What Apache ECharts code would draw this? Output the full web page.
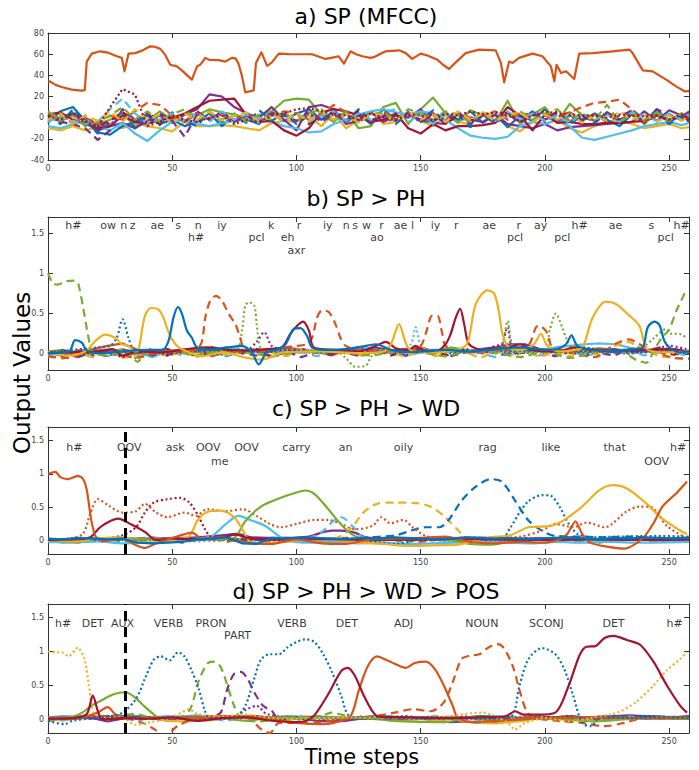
<!DOCTYPE html>
<html><head><meta charset="utf-8">
<script src="https://cdn.jsdelivr.net/npm/echarts@6.0.0/dist/echarts.min.js"></script>
<style>html,body{margin:0;padding:0;background:#fff}#c{width:699px;height:770px}</style>
</head><body><div id="c"></div>
<script>
// ---------- tick labels ----------
const xTicks = [0, 50, 100, 150, 200, 250];
const yTicksOut = [0, 0.5, 1, 1.5];
const oovBoundary = 31;

// ---------- panel a: SP (MFCC) ----------
const aEnergy = [[0,34],[0.8,34.3],[3,31],[5.5,29],[9.5,26.5],[13.6,25.5],[14.8,26],[15.6,53],[17.6,60.5],[21,62.7],[24,61.5],[27.7,58],[29.7,56.5],[30.8,43.8],[32.4,60.5],[35.1,61],[38,63.5],[41.1,67.4],[43,67],[45.2,65],[47.2,59.3],[49.2,50],[51.9,48.5],[53.9,44.7],[56,40],[57.9,35.9],[60,48.5],[61.5,50.5],[63.3,56.5],[65,54.5],[68.7,54.3],[71.4,53],[74,56.5],[75.5,56],[76.7,51],[78,40],[79.4,23.9],[82.8,25.8],[83.7,51.7],[85.9,61.7],[88.2,49],[90,52],[92.9,60.5],[97,60],[101,59.9],[106.3,59.9],[111.7,55.5],[115,57],[117,58],[119.1,51],[121.8,62.7],[124,60],[126.5,58],[129.8,56.5],[131.5,57.5],[135.9,62.7],[141.3,63.6],[144,61],[146.6,55.5],[150,60.5],[153,58.5],[156.7,54.8],[159,50],[161.4,46],[164,52],[168.1,61],[173.5,64.3],[180.2,63.6],[182.3,51.7],[183.6,33.4],[185.6,53],[187,51.7],[189.6,56.5],[195,60.5],[199,58],[202.4,48.5],[203.8,34.3],[204.7,50],[206.5,42.2],[208.5,43.8],[211.8,36.6],[213.8,60.5],[219.2,61],[227.3,62.7],[234,64.3],[235.3,61],[239.4,44.7],[243.4,43.8],[248.8,35.9],[252.8,29.6],[256.2,24.9],[258,25]];
const aSteps = [0,5,10,15,20,25,30,35,40,45,50,55,60,65,70,75,80,85,90,95,100,105,110,115,120,125,130,135,140,145,150,155,160,165,170,175,180,185,190,195,200,205,210,215,220,225,230,235,240,245,250,255,258];
const aLightBlue = [-8,-10,-6,-3,-8,-12,-5,-15,-22,-12, -4,-2,-6,-8,-5,-3,-2,0,-4,-8, -10,-14,-13,-6,-2,3,6,8,5,3, 6,4,-2,-10,-17,-19,-20,-18,-8,-4, -6,-2,-8,-19,-21,-18,-15,-12,-8,-6, -4,-7,-5];
const aDarkRed = [3,5,-2,-6,-10,-8,2,-4,-6,-2, 0,4,10,16,17,18,2,-4,-3,-12, -17,-10,5,8,6,2,-4,-2,4,-10, -15,-6,-12,-8,-8,-7,-5,10,2,-12, 3,-5,-4,-6,-6,-5,-5,-4,-3,2, -2,1,-3];
const aPurple = [0,-3,4,-2,-12,-8,-5,-10,-3,2, -5,3,8,22,20,10,4,0,10,-2, -12,10,12,8,-6,-3,5,-4,2,0, 8,-5,-6,4,-2,-4,3,-6,-8,-10, -6,-12,-9,-8,-7,-6,-5,-4,6,-3, 7,2,5];
const aGreen = [2,0,5,-4,-6,-2,4,-8,-3,6, -2,4,2,8,5,3,-1,2,6,16, 18,17,3,-4,6,-10,-8,10,14,-6, 8,19,4,-5,7,2,-4,16,-6,3, 10,-4,13,2,-3,5,-2,4,-6,5, -2,3,0];
const aYellow = [-10,-12,-8,-12,-9,-6,-10,-5,-8,-10, -13,-4,-8,-8,-7,-8,-10,-12,-5,-3, -4,2,-8,4,-10,-2,6,-6,-4,4, -3,-8,2,-4,-6,5,2,-8,-13,-4, -6,-2,-10,-14,-8,-4,-2,-6,-10,-8, -6,-10,-9];
const aBlue = [-5,6,10,-3,-14,-16,-8,-4,2,-6, -2,-8,-4,4,-8,3,-2,-6,6,-3, 4,8,-2,6,-4,3,-6,8,-2,5, -3,-4,4,-2,6,-5,3,-9,2,-3, 8,-4,2,-3,4,-2,-8,3,-4,8, -4,2,-2];
const aDarkRedDot = [2,-2,4,-4,-8,10,27,22,-8,-4, 2,-2,-4,0,2,-6,-2,-4,2,4, 8,9,6,4,2,-2,4,0,-2,3, 2,-3,4,2,6,3,5,4,-4,2, 6,4,3,2,2,0,3,2,1,2, -2,3,0];
const aOrangeDash = [4,2,-4,0,-6,2,-2,6,14,12, 2,-4,3,0,2,-2,4,-3,2,6, 4,-2,3,12,5,-4,2,6,-2,4, 2,3,-4,5,0,2,6,-2,4,3, -3,2,5,10,14,15,17,8,-4,3, -2,4,0];
const aPurpleDash = [2,-4,-6,-10,-21,-12,8,-2,-6,4, -3,-18,3,-2,6,-4,2,-5,4,2, -3,5,-4,3,-2,4,-5,2,-3,5, -4,3,-2,5,-6,3,-3,4,-5,2, 4,-3,5,-2,3,-4,2,6,-4,8, 3,-2,6];
const aLightBlueDash = [-4,2,-3,-6,-4,8,18,4,-6,-2, 4,-3,5,-4,6,-2,3,-5,2,-3, 5,-4,2,6,-3,4,-2,5,8,-4, 3,-6,4,2,-4,5,-3,6,-2,4, -3,2,-5,4,-2,3,-4,5,2,-3, 4,-2,3];
const aGreenDash = [6,-3,2,-8,-4,2,10,-2,6,-4, 3,8,-3,5,-2,4,-4,3,-2,5, -3,4,8,-2,6,-4,3,5,-3,8, 4,-2,6,3,-4,5,-3,2,6,-2, 4,8,-3,5,-2,12,-4,3,-2,5, -3,4,2];
const aYellowDash = [-2,4,-6,2,-3,6,-4,8,-2,3, -5,4,-2,6,-3,2,5,-4,3,-2, 4,-3,6,-2,3,-5,4,2,-3,5, -2,3,-4,6,-2,4,-3,2,5,-4, 3,-2,4,-5,2,-3,6,-2,3,-4, 2,-3,1];
const aBlueDash = [3,-6,8,-2,-15,-4,6,-10,2,-7, 5,-3,-8,6,-4,2,-5,7,-3,4, -6,3,-2,5,-4,8,-3,2,-6,4, -2,7,-4,3,-9,2,-5,4,-3,6, -4,3,-6,2,-5,4,-3,8,-2,3, -6,2,-4];
const aDarkRedDash = [-3,4,-6,2,-8,-3,5,-2,4,-6, 3,-4,6,-2,5,-3,2,-5,3,-2, 4,-6,2,5,-3,6,-4,3,-2,5, -3,4,-6,2,-4,3,-2,5,-3,4, -2,6,-3,2,-4,5,-2,3,-5,2, -3,4,-2];
const aPurpleDot = [1,-2,3,-5,-9,-6,2,-3,4,-2, 3,-4,5,-2,3,-3,2,-4,3,2, -3,4,-2,3,-4,2,-3,5,-2,3, -4,2,-3,4,-2,3,-5,2,-3,4, -2,3,-4,2,-3,5,-2,3,-4,2, -3,2,-1];

// ---------- shared coarse steps for near-zero activity (b, c, d) ----------
const steps6 = [0,6,12,18,24,30,36,42,48,54,60,66,72,78,84,90,96,102,108,114,120,126,132,138,144,150,156,162,168,174,180,186,192,198,204,210,216,222,228,234,240,246,252,258];

// ---------- panel b: SP > PH ----------
const bGreenDash = [[0,1.0],[2,.87],[4,.86],[7,.9],[10,.91],[12,.89],[14,.6],[16,.25],[18,.02],[24,-.02],[32,.03],[36,-.1],[40,.02],[50,.03],[60,-.02],[70,.04],[80,.02],[90,-.03],[100,.02],[110,.04],[120,.02],[130,-.02],[140,.03],[150,.02],[160,-.03],[170,.04],[180,.02],[190,-.04],[200,.03],[210,-.05],[220,.02],[230,.04],[237,-.08],[241,-.11],[244,.05],[247,.2],[250,.3],[253,.54],[257,.8]];
const bYellow = [[0,.02],[8,-.02],[15,.03],[19,.16],[23,.24],[27,.2],[29.7,.12],[32.4,.1],[35,.03],[36.4,.05],[39,.47],[41.5,.57],[44.5,.55],[46.5,.45],[47.8,.33],[49.9,.18],[52.6,.08],[56,.03],[62,-.03],[70,.02],[80,-.05],[86,-.07],[95,.02],[110,.03],[125,.01],[135,.03],[138,.12],[141.3,.37],[144.2,.12],[147,.03],[155,.02],[163,.04],[168,.1],[169.5,.2],[172.2,.62],[176.9,.79],[179.6,.75],[181.6,.5],[182.9,.25],[185.5,.08],[190,.05],[195.6,.12],[198.4,.25],[201,.1],[206,.03],[212,.05],[215.2,.08],[219.2,.45],[224.6,.65],[228.6,.62],[234,.475],[238,.35],[240,.14],[241.4,.05],[248,.02],[258,.03]];
const bBlue = [[0,.01],[6,.02],[8.9,.04],[10.9,.17],[13.6,.14],[15.6,.04],[20,.01],[30,.03],[40,.05],[46,.05],[48.5,.16],[50.5,.45],[52.3,.58],[53.9,.5],[55.9,.29],[57.9,.2],[60,.08],[65,.05],[72,.08],[78,.1],[82,.02],[84.8,-.13],[88,.02],[92,.05],[95.6,.12],[98.9,.31],[101.6,.32],[104.3,.22],[106.3,.08],[112,.05],[120,.06],[128,.1],[132,.12],[138,.05],[145,.02],[152,.03],[160,.05],[170,.03],[180,.06],[190,.08],[200,.05],[205,.06],[208.5,.12],[210.7,.23],[213.1,.1],[220,.05],[230,.04],[236,.06],[239.4,.08],[241.4,.33],[244.1,.4],[246.1,.36],[248.1,.16],[250.1,.08],[254,.02],[258,.03]];
const bBlueDot = [[0,.02],[10,.05],[20,.08],[25,.1],[27.7,.2],[30,.43],[32.4,.2],[34.4,.06],[40,.03],[60,.05],[80,.03],[100,.02],[120,.05],[140,.03],[160,.02],[180,.04],[200,.03],[220,.02],[240,.04],[258,.02]];
const bOrangeDash = [[0,-.03],[8,-.05],[15,.02],[25,.05],[35,-.05],[45,.02],[55,.04],[60,.06],[62,.16],[63.3,.45],[65.3,.66],[67.6,.72],[70,.66],[72.7,.5],[75.4,.37],[77.4,.2],[78.8,.08],[85,.03],[95,.08],[100,.1],[104,.12],[106.3,.2],[108.3,.45],[110.3,.54],[113,.52],[115.7,.37],[117.7,.2],[119.8,.1],[125,.05],[135,.03],[145,.05],[150,.1],[152,.25],[154.7,.475],[156.7,.475],[158.7,.25],[160,.1],[165,.03],[175,.02],[185,.05],[190,.08],[193.7,.12],[196.4,.33],[197.7,.35],[201,.26],[203,.08],[210,.03],[220,-.04],[228,.12],[234,.18],[238,.12],[245,.02],[252,-.05],[258,-.06]];
const bGreenDot = [[0,.02],[10,.03],[20,.01],[30,.02],[35,-.05],[40,.03],[50,.04],[60,.02],[70,.03],[76,.05],[78.1,.29],[79.4,.6],[80.9,.64],[83,.6],[84.1,.35],[85.5,.08],[90,.03],[100,.02],[110,.01],[116,.03],[119.8,-.05],[123.8,-.16],[127.8,-.15],[130.5,-.02],[136,.03],[145,.02],[155,.04],[165,.02],[175,.03],[182,.06],[185,.41],[187,.1],[192,.02],[200,.05],[202,.3],[204.4,.5],[207,.33],[208.5,.2],[212,.05],[220,.03],[230,.05],[240,.1],[244,.2],[248.8,.31],[251,.25],[254,.25],[257,.2]];
const bDarkRed = [[0,.01],[10,.02],[20,.03],[26,.06],[30,-.02],[36,.03],[46,.02],[56,.06],[64,.08],[72,.05],[80,.04],[88,.06],[94,.08],[97.6,.25],[100.3,.35],[102.7,.4],[105,.29],[107,.08],[115,.05],[125,.03],[132,.1],[136,.15],[140,.07],[145,.05],[148,.1],[151,.04],[156,.03],[160,.12],[162.1,.25],[164.1,.45],[165.9,.56],[167.5,.37],[169.5,.12],[175,.05],[185,.08],[190,.12],[195,.05],[205,.03],[212,.08],[218,.05],[228,.04],[240,.05],[250,.06],[258,.02]];
const bLightBlueDot = [[0,0],[20,.03],[40,.02],[60,.04],[80,.03],[100,.05],[120,.04],[140,.03],[146,.12],[148,.33],[150,.12],[155,.03],[175,.02],[200,.04],[225,.03],[258,.02]];
const bPurpleDot = [[0,.02],[20,.04],[40,.01],[60,.03],[80,.05],[84,.15],[87,.27],[90,.1],[95,.05],[120,.02],[150,.03],[175,.02],[182,.08],[185,.33],[187,.1],[200,.05],[220,.03],[240,.02],[250,.1],[258,.05]];
const bOrange = [.02,-.03,.04,.06,.1,.13,.05,-.02,.03,.01, .05,-.03,.02,.04,.06,.02,.08,.05,.03,-.02, .04,.06,.03,.02,.05,.08,.03,.06,.04,.02, .03,.05,.04,.06,.03,.02,.05,.07,.05,.04, .03,.06,.02,.03];
const bPurple = [-.02,.03,-.04,.02,.05,-.03,.04,.02,-.02,.06, .03,.08,.05,.02,.04,.03,.06,.02,.05,.04, .03,.05,.08,.04,.06,.03,.05,.04,.02,.06, .08,.12,.12,.06,.03,.02,.05,.04,.06,.03, .05,.04,.06,.03];
const bLightBlue = [.01,-.02,.04,.02,-.03,.05,.02,-.04,.03,.06, .02,.04,.08,.05,.06,.03,.05,.02,.04,.03, .06,.08,.04,.03,.05,.02,.04,.06,.03,.05, .04,.02,.06,.04,.08,.1,.12,.13,.12,.08, .04,.03,.02,.01];
const bGreen = [.03,.05,-.02,.04,.02,.06,-.03,.02,.05,.03, -.02,.04,.06,.02,.03,-.04,.05,.02,.06,.03, .04,-.02,.05,.03,.02,.06,.04,.08,.05,.02, .03,.05,.02,.06,.04,.03,.05,.04,.02,.06, .03,.05,.02,.04];
const bYellowDot = [.02,0,.03,-.01,.04,.01,.03,0,.02,.04, 0,.03,.01,.02,-.01,.03,.02,.04,.01,.03, 0,.02,.04,.01,.03,.02,0,.04,.02,.03, .01,.04,.02,0,.03,.01,.04,.02,.03,0, .02,.04,.01,.03];
const bBlueDot2 = [.01,.03,-.02,.02,.04,.02,.01,.03,0,.02, .04,.01,-.02,.03,.02,.04,.01,.03,.02,0, .04,.02,.03,.01,.02,.04,.03,.01,.02,.03, .04,.02,.01,.03,.02,.04,.01,.03,.02,0, .03,.02,.04,.01];
const bYellowDash = [-.03,-.06,.02,-.04,.03,-.05,-.02,.04,-.03,.02, -.04,.06,-.02,.03,.05,.02,-.03,.04,.06,.02, .04,-.02,.03,.02,-.04,.05,-.03,.04,.02,-.05, .03,-.02,.04,-.04,.02,-.03,.05,-.02,.1,.15, .05,-.03,-.05,-.06];
const bDarkRedDot = [.02,.04,-.03,.05,.02,-.04,.03,.06,-.02,.04, .03,.08,.04,.02,.06,.03,.05,.04,.02,.04, .03,.06,.04,.02,.03,.05,.02,.04,.06,.02, .1,.12,.06,.04,.03,.05,.08,.05,.03,.04, .05,.04,.03,.02];
const bLightBlueDash = [-.02,.03,.01,-.04,.02,.04,-.03,.02,.05,-.02, .03,.01,-.03,.04,.02,-.02,.05,.03,-.03,.02, .04,-.02,.03,.05,-.03,.02,.04,-.02,.03,.01, -.04,.02,.05,-.02,.03,.04,-.03,.02,.01,.04, -.02,.03,.02,-.03];
const bPurpleDash = [.03,-.02,.04,.01,-.03,.05,.02,-.02,.04,.03, -.03,.02,.05,.01,-.02,.04,.03,-.04,.02,.05, .01,-.03,.04,.02,-.02,.03,.05,-.03,.02,.04, .01,-.02,.05,.03,-.03,.02,.04,.01,-.02,.06, .03,.08,.05,.02];
const bDarkRedDash = [.01,.04,.02,-.02,.05,.03,-.01,.04,.06,.02, -.02,.03,.05,.01,.04,-.03,.02,.06,.03,-.01, .04,.02,.05,-.02,.03,.06,.01,-.02,.04,.03, .05,-.01,.02,.04,.06,.02,-.02,.03,.05,.01, .04,.02,-.01,.03];
const bLabels = ['h#','ow','n','z','ae','s','n','iy','k','r','iy','n','s','w','r','ae','l','iy','r','ae','r','ay','h#','ae','s','h#','h#','pcl','eh','ao','pcl','pcl','pcl','axr'];
const bLabelSteps = [10.2,24.2,30.5,34.1,44,52.4,60.5,70,89.8,101,112.6,120,123.6,128.2,134.2,141.9,146.7,156,164.3,177.6,189.5,198.3,214,228.4,242.8,255,59.6,83.9,96.4,132.4,188,207,248.6,100];
const bLabelRows = [0,0,0,0,0,0,0,0,0,0,0,0,0,0,0,0,0,0,0,0,0,0,0,0,0,0,1,1,1,1,1,1,1,2];

// ---------- panel c: SP > PH > WD ----------
const cOrange = [[0,1.0],[3,1.03],[5,.95],[8,.92],[12,.97],[14,.93],[15.6,.76],[17.4,.31],[19.2,.06],[22,-.01],[30,.03],[35,-.06],[39,-.11],[43,-.05],[50,.04],[58,.12],[62,.03],[70,.05],[80,-.03],[90,-.05],[100,.02],[110,-.04],[120,-.05],[130,.02],[140,.03],[150,.04],[160,.06],[170,-.02],[180,-.04],[190,-.02],[200,-.03],[206,.02],[209,.1],[212.3,.29],[215,.1],[218,-.03],[225,-.09],[232,-.12],[236,-.06],[240,.06],[243.7,.26],[247.3,.51],[252.7,.7],[257.2,.885]];
const cDarkRed = [[0,.01],[10,.02],[15,.03],[17.4,.06],[21,.2],[25.5,.3],[28.2,.33],[33.6,.24],[39,.13],[43.5,.01],[50,.03],[60,.02],[70,.05],[76,.09],[80,.04],[90,.02],[100,.03],[120,.02],[140,.01],[160,.03],[180,.02],[200,.01],[220,.02],[240,.01],[258,.02]];
const cOrangeDot = [[0,.02],[8,.03],[14,.1],[17,.4],[20.1,.62],[24.6,.52],[30,.42],[35.4,.44],[39,.55],[43.5,.42],[48,.35],[55,.42],[59.6,.37],[64,.47],[71.3,.44],[78.5,.47],[83.9,.37],[89.3,.25],[93.8,.2],[100,.25],[107.2,.31],[112.6,.31],[118,.25],[123.4,.17],[130.6,.22],[134.2,.35],[137.8,.26],[143.1,.31],[146.7,.2],[152,.07],[160,.03],[170,.05],[180,.03],[190,.06],[198.8,.15],[204.2,.25],[211.4,.2],[216.8,.27],[224,.2],[233,.44],[238.3,.51],[242.8,.5],[249.1,.22],[256.3,.05],[258,.03]];
const cDarkRedDot = [[0,.01],[20,.02],[30,.08],[35.4,.2],[39,.42],[42.6,.57],[48,.62],[53.3,.64],[56.9,.57],[60.5,.37],[63.2,.17],[65.9,.05],[75,.02],[100,.01],[130,.02],[160,.01],[190,.02],[220,.01],[258,.01]];
const cYellow = [[0,.02],[10,-.01],[20,.03],[30,.05],[36,-.02],[45,-.03],[52,.02],[56.9,.07],[60.5,.32],[65,.44],[69.5,.45],[74.9,.35],[78.5,.15],[81.2,-.01],[86,-.04],[95,-.02],[105,.02],[115,.01],[125,-.03],[135,-.05],[145,-.08],[155,-.07],[165,-.06],[170,-.02],[178,.05],[186,.08],[193.4,.2],[202.4,.22],[207.8,.31],[215,.51],[222.1,.76],[227.6,.83],[233,.78],[240.1,.58],[247.3,.33],[254.5,.15],[257.2,.1]];
const cLightBlue = [[0,-.02],[10,-.03],[20,-.01],[30,-.04],[40,-.03],[50,-.02],[58,.02],[65.9,.07],[71.3,.24],[76.7,.37],[82,.3],[87.5,.22],[92.9,.07],[96.4,0],[105,-.03],[115,-.02],[125,-.04],[135,-.03],[145,-.05],[155,-.04],[165,-.03],[175,-.02],[185,-.03],[195,-.04],[205,-.02],[215,-.03],[225,-.02],[240,-.03],[258,-.02]];
const cGreen = [[0,.01],[10,-.02],[20,.03],[30,.04],[40,.02],[50,.03],[60,.02],[70,.02],[74.9,.04],[79.4,.29],[85.7,.51],[92.9,.63],[100,.72],[103.6,.75],[107.2,.7],[112.6,.48],[118,.24],[123.4,.07],[130,.02],[140,.01],[150,.03],[160,.02],[170,-.05],[178,-.06],[185,-.02],[195,.02],[205,.03],[215,.01],[230,.02],[245,.03],[258,.02]];
const cLightBlueDash = [[0,.02],[20,.01],[40,.03],[60,.02],[80,.01],[100,.03],[106,.05],[110.8,.15],[115,.3],[118,.35],[123,.2],[127,.05],[140,.02],[160,.03],[180,.01],[200,.02],[230,.01],[258,.02]];
const cYellowDash = [[0,.01],[20,.02],[40,.01],[60,.02],[80,.01],[100,.02],[115,.03],[121.6,.17],[127,.42],[132.4,.55],[139.5,.57],[148.5,.56],[153.9,.51],[159.3,.37],[164.7,.17],[168.3,.05],[180,.02],[200,.01],[230,.02],[258,.01]];
const cBlueDash = [[0,.02],[20,.01],[40,.02],[60,.03],[80,.01],[100,.02],[120,.02],[130,.05],[140,.08],[146,.15],[152.1,.2],[157.5,.2],[161.1,.3],[166.5,.6],[171.9,.8],[178.2,.92],[182.7,.88],[188,.6],[193.4,.3],[198.8,.15],[204.2,.07],[215,.06],[224,.05],[235,.06],[245,.03],[258,.02]];
const cBlueDot = [[0,.02],[30,.01],[60,.02],[90,.01],[120,.03],[140,-.05],[150,.02],[170,.04],[182.7,.04],[186.2,.2],[189.8,.42],[193.4,.59],[198.8,.68],[202.4,.67],[206,.5],[209.6,.25],[213.2,.1],[218.6,.05],[230,.06],[245,.07],[258,.06]];
const cPurple = [[0,.01],[20,.02],[40,.03],[60,.05],[70,.08],[76,.1],[82,.05],[95,.04],[105,.06],[110,.12],[114.4,.15],[118,.15],[123.4,.12],[128,.05],[140,.03],[160,.02],[175,.04],[190,.03],[210,.04],[225,.02],[240,.03],[258,.04]];
const cBlue = [.03,.02,.04,.03,.02,.03,-.03,-.04,-.03,-.02, .02,.03,.05,-.04,-.05,.04,.03,.05,.04,.03, .02,.04,.03,.05,.04,.03,.02,.03,.05,.04, .03,.04,.02,.03,.04,.05,.03,.02,.04,.03, .05,.04,.03,.04];
const cDarkRedDot2 = [.01,0,.02,.01,0,.02,.01,.03,.02,.01, .02,0,.01,.02,.01,0,.02,.01,.03,.02, .01,.02,0,.01,.02,.03,.01,0,.02,.01, .02,.01,0,.02,.03,.01,.02,0,.01,.02, .01,.02,0,.01];
const cOrangeDash = [-.02,.01,-.03,.02,.04,-.02,.03,.05,.02,-.03, .01,.04,-.02,.03,.01,-.04,.02,.03,-.02,.01, .04,-.03,.02,.05,.03,-.02,.01,.04,-.03,.02, .01,-.02,.03,.04,-.02,.01,.03,-.03,.02,.04, .01,-.02,.03,.02];
const cGreenDash = [.01,-.03,.02,.04,.03,-.02,.01,.03,.02,-.03, .04,.02,.01,-.02,.03,.02,.04,-.01,.02,.03, -.02,.01,.04,.02,-.03,.02,.01,.03,-.02,.04, .02,.01,-.03,.02,.03,.01,-.02,.04,.02,.01, .03,-.02,.02,.01];
const cPurpleDot = [.02,.01,.03,.02,.04,.03,.01,.02,.04,.03, .02,.05,.03,.01,.02,.04,.03,.02,.01,.03, .04,.02,.03,.05,.02,.01,.03,.04,.02,.03, .01,.02,.04,.03,.02,.05,.03,.01,.02,.04, .03,.02,.04,.03];
const cLightBlueDot = [-.01,.02,.01,-.02,.03,.02,-.01,.03,.01,.02, -.02,.01,.03,.02,-.01,.02,.04,.01,-.02,.03, .02,.01,-.01,.03,.02,.04,.01,-.02,.02,.03, .01,-.01,.02,.04,.03,.01,-.02,.02,.03,.01, .02,-.01,.03,.02];
const cLabels = ['h#','OOV','ask','OOV','OOV','carry','an','oily','rag','like','that','h#','me','OOV'];
const cLabelSteps = [10.6,32.7,51.2,64.5,79.9,100,119.8,143.1,176.9,202.4,228.1,253.6,69.1,245];
const cLabelRows = [0,0,0,0,0,0,0,0,0,0,0,0,1,1];

// ---------- panel d: SP > PH > WD > POS ----------
const dYellowDot = [[0,1.0],[3,.99],[6,.98],[8.4,.93],[12,1.06],[14.7,.89],[16.5,.5],[18.3,.1],[22,.02],[30,.03],[35,-.08],[40,-.05],[50,.03],[56.9,.15],[60,.08],[70,.04],[80,.07],[90,.02],[100,.01],[120,.03],[140,.02],[160,.04],[170,.09],[175,.1],[180,.05],[185,-.05],[188,-.15],[192,-.05],[200,.02],[210,-.03],[220,.03],[229.3,.1],[236.5,.25],[243.7,.5],[249,.72],[254.5,.89],[257.2,.99]];
const dDarkRed = [[0,.01],[10,.02],[15.6,.08],[18,.35],[20.1,.12],[21.9,0],[30,.02],[40,.01],[50,.03],[60,-.02],[70,.02],[80,.03],[90,-.02],[100,-.04],[104,-.02],[107.2,.06],[112.6,.36],[118,.71],[120.7,.76],[123.4,.65],[127,.36],[130.6,.12],[133.3,.04],[145,.03],[160,.02],[175,.03],[184.4,.05],[188,.12],[191.6,.07],[197,.07],[204.2,.1],[209.6,.5],[214,.95],[216.8,1.07],[220.4,1.08],[224,1.2],[227.6,1.23],[233,1.17],[238.3,1.1],[243.7,.85],[249.1,.5],[254.5,.2],[257.2,.1]];
const dGreen = [[0,-.03],[5,.02],[10,.04],[13.8,.1],[17.4,.2],[21,.27],[26.4,.37],[30.9,.4],[34.5,.34],[38,.22],[41.7,.1],[44.4,.03],[55,.02],[65,.04],[80,-.02],[90,.03],[100,.02],[120,.03],[140,-.02],[160,-.04],[170,.03],[180,-.02],[200,.02],[220,-.03],[240,.02],[258,.01]];
const dBlueDot = [[0,-.02],[6.6,-.07],[10,-.02],[20,.03],[25,.05],[30,.1],[35.4,.3],[39,.6],[42.6,.88],[45.3,.93],[48.9,.87],[52.4,.99],[55.1,.92],[57.8,.72],[60.5,.47],[63.2,.12],[65,.02],[70,.01],[74.9,.02],[79.4,.2],[83,.6],[85.7,.88],[89.3,.96],[92.9,.96],[96.4,1.06],[100,1.14],[103.6,1.18],[107.2,1.14],[110.8,.96],[114.4,.69],[118,.35],[120.7,.07],[125,.02],[140,.01],[160,.02],[175,.01],[186.2,.04],[189.8,.5],[193.4,.89],[198.8,1.05],[204.2,.96],[207.8,.74],[211.4,.35],[215,-.05],[218.6,-.1],[222.2,.04],[235,.02],[250,.03],[258,.02]];
const dGreenDash = [[0,.01],[15,.03],[25,.05],[35,.08],[40,.04],[50,.02],[55,.05],[57.8,.2],[60.5,.55],[64.1,.82],[66.8,.85],[69.5,.77],[72.2,.5],[74.9,.2],[77.6,.02],[85,-.03],[95,.02],[105,.04],[110,.05],[114,.1],[117,.08],[125,.02],[150,.01],[175,.02],[200,.01],[230,.02],[258,.01]];
const dPurpleDash = [[0,.01],[20,.02],[40,.01],[60,.02],[66,.05],[69.5,.1],[72.2,.45],[74.9,.67],[77.6,.7],[80.3,.6],[83,.4],[86.6,.2],[90.2,.12],[93,0],[100,.02],[130,.01],[160,.02],[190,.01],[220,.02],[258,.01]];
const dOrange = [[0,.02],[10,.01],[20,.1],[24,.18],[28,.05],[40,.02],[60,.03],[80,.05],[100,-.05],[110,-.07],[115,-.05],[121.6,.04],[125.2,.44],[128.8,.79],[132.4,.93],[136,.88],[139.5,.82],[144,.76],[147.6,.83],[152.1,.85],[155.7,.74],[159.3,.5],[162.9,.2],[164.7,.04],[170,-.04],[180,-.02],[200,.02],[220,.03],[240,.02],[258,.03]];
const dOrangeDash = [[0,.02],[20,.05],[30,.03],[38,-.05],[43,-.15],[47,-.25],[52,-.1],[60,.02],[70,.05],[80,.03],[86,-.15],[89.3,-.2],[93,-.05],[100,-.05],[110,-.04],[120,.02],[130,.04],[139.5,.1],[146.7,.15],[154,.12],[159.3,.25],[162.9,.55],[166.5,.89],[170,.94],[173.7,.96],[177.3,1.06],[180.9,1.11],[183.5,1.05],[187.1,.78],[189.8,.43],[192.5,.13],[195.2,.03],[205,-.02],[215,-.05],[224,-.1],[232,-.05],[240,.02],[258,.01]];
const dPurpleDot = [[0,.02],[30,.01],[60,.03],[75,.05],[80,.15],[84,.2],[88,.08],[100,.02],[130,.01],[160,.02],[190,.01],[220,.02],[258,.02]];
const dLightBlue = [.03,.05,.04,.02,.03,.05,.04,.03,.05,.04, .06,.03,.05,.02,.04,.03,.05,.04,.02,.03, .01,.03,.02,.04,.03,.02,.01,.03,.02,.04, .03,.02,.01,.03,.02,.04,.03,.02,.04,.03, .02,.03,.04,.02];
const dPurple = [-.02,.01,.03,.02,-.03,.01,.04,.02,-.02,.03, .01,.02,.04,.03,.05,.02,.03,.01,-.02,-.03, -.02,.01,.02,.01,.03,.02,-.02,-.04,-.03,-.05, -.04,-.02,.03,.02,.01,.03,.02,.04,.05,.06, .05,.04,.03,.05];
const dYellow = [.01,-.02,.02,.04,.02,.03,.05,.02,-.02,-.03, -.02,-.01,.02,.03,.01,.02,-.02,.03,.05,.02, .01,.03,.02,-.02,-.03,-.04,-.02,.01,-.03,-.05, -.06,-.04,-.02,.03,.01,.02,.03,-.02,.01,.02, .03,.01,.02,.01];
const dBlue = [.02,.03,.02,.04,.03,.05,.04,.03,.02,.03, .04,.02,.03,.05,.04,.02,.03,.02,.04,.03, .02,.03,.05,.04,.02,.03,.04,.02,.03,.05, .04,.03,.02,.04,.03,.05,.03,.02,.04,.03, .05,.04,.03,.04];
const dOrangeDot = [.03,.01,.04,.02,.05,.03,.02,.04,.01,.03, .05,.02,.04,.01,.03,.02,.05,.03,.01,.04, .02,.03,.05,.01,.03,.02,.04,.03,.01,.05, .02,.03,.04,.01,.03,.05,.02,.04,.01,.03, .02,.04,.03,.02];
const dLightBlueDash = [.02,-.01,.03,.01,.04,.02,-.02,.03,.01,.02, .04,.01,-.02,.03,.02,.01,.04,-.01,.02,.03, .01,.02,.04,-.02,.03,.01,.02,.04,.01,-.01, .03,.02,.01,.04,.02,-.02,.03,.01,.02,.04, .01,.03,.02,.01];
const dDarkRedDot = [.01,.02,.04,.03,.05,.02,.01,.03,.02,.04, .01,.03,.02,.05,.03,.01,.02,.04,.03,.02, .01,.04,.02,.03,.05,.02,.01,.03,.04,.02, .03,.01,.02,.04,.03,.05,.02,.01,.03,.02, .04,.03,.02,.01];
const dLabels = ['h#','DET','AUX','VERB','PRON','VERB','DET','ADJ','NOUN','SCONJ','DET','h#','PART'];
const dLabelSteps = [6.1,18,30,48.5,65.6,98.2,120.3,143.1,174.6,200.6,227.6,252.2,76.3];
const dLabelRows = [0,0,0,0,0,0,0,0,0,0,0,0,1];

// ---------- styling ----------
const FONT = 'DejaVu Sans';
const COL = {blue:'#0072BD', orange:'#D95319', yellow:'#EDB120', purple:'#7E2F8E', green:'#77AC30', lblue:'#4DBEEE', dred:'#A2142F'};
const DASH = [8, 5], DOT = [2, 2.6];
const LW = 2.2;
const AXC = '#333';

const grids = [
  {left:48, top:33, width:641, height:127},
  {left:48, top:217, width:641, height:153},
  {left:48, top:427, width:641, height:127},
  {left:48, top:604, width:641, height:129}
];
const rowLevels = [[], [1.6, 1.445, 1.285], [1.39, 1.19], [1.41, 1.23]];

const xAxis = [], yAxis = [];
grids.forEach((g, i) => {
  xAxis.push({gridIndex:i, type:'value', min:0, max:258, position:'bottom',
    axisLine:{show:true, onZero:false, lineStyle:{color:AXC, width:1}},
    axisTick:{show:true, inside:true, length:5, customValues:xTicks, lineStyle:{color:AXC}},
    axisLabel:{customValues:xTicks, fontSize:8, color:'#444', margin:4, fontFamily:FONT},
    splitLine:{show:false}});
  xAxis.push({gridIndex:i, type:'value', min:0, max:258, position:'top',
    axisLine:{show:true, onZero:false, lineStyle:{color:AXC, width:1}},
    axisTick:{show:true, inside:true, length:5, customValues:xTicks, lineStyle:{color:AXC}},
    axisLabel:{show:false}, splitLine:{show:false}});
  if (i === 0) {
    const base = {gridIndex:0, type:'value', min:-40, max:80, interval:20, splitLine:{show:false}};
    yAxis.push(Object.assign({}, base, {position:'left',
      axisLine:{show:true, onZero:false, lineStyle:{color:AXC}},
      axisTick:{show:true, inside:true, length:5, lineStyle:{color:AXC}},
      axisLabel:{fontSize:8, color:'#444', margin:4, fontFamily:FONT}}));
    yAxis.push(Object.assign({}, base, {position:'right',
      axisLine:{show:true, onZero:false, lineStyle:{color:AXC}},
      axisTick:{show:true, inside:true, length:5, lineStyle:{color:AXC}},
      axisLabel:{show:false}}));
  } else {
    const base = {gridIndex:i, type:'value', min:-0.2, max:1.7, splitLine:{show:false}};
    yAxis.push(Object.assign({}, base, {position:'left',
      axisLine:{show:true, onZero:false, lineStyle:{color:AXC}},
      axisTick:{show:true, inside:true, length:5, customValues:yTicksOut, lineStyle:{color:AXC}},
      axisLabel:{customValues:yTicksOut, fontSize:8, color:'#444', margin:4, fontFamily:FONT, formatter:v => String(v)}}));
    yAxis.push(Object.assign({}, base, {position:'right',
      axisLine:{show:true, onZero:false, lineStyle:{color:AXC}},
      axisTick:{show:true, inside:true, length:5, customValues:yTicksOut, lineStyle:{color:AXC}},
      axisLabel:{show:false}}));
  }
});

function line(g, data, color, type, smooth, z) {
  return {type:'line', xAxisIndex:g*2, yAxisIndex:g*2, data:data, symbol:'none', showSymbol:false,
    smooth:smooth || false, clip:true, silent:true, z:z || 2,
    lineStyle:{color:color, width:LW, type:type || 'solid', cap:'butt', join:'round'},
    itemStyle:{color:color}, emphasis:{disabled:true}};
}
function stepped(g, xs, vals, color, type, smooth) {
  return line(g, xs.map((x, k) => [x, vals[k]]), color, type, smooth);
}
function labels(g, names, xs, rows, withBoundary) {
  const s = {type:'scatter', xAxisIndex:g*2, yAxisIndex:g*2, symbolSize:1, silent:true, z:10,
    itemStyle:{color:'rgba(0,0,0,0)'},
    data:names.map((t, k) => ({name:t, value:[xs[k], rowLevels[g][rows[k]]]})),
    label:{show:true, position:'inside', formatter:'{b}', fontSize:11, fontFamily:FONT, color:'#000'}};
  if (withBoundary) {
    s.markLine = {symbol:['none','none'], silent:true, label:{show:false}, animation:false,
      lineStyle:{color:'#000', type:[10, 6], width:3}, data:[{xAxis:oovBoundary}]};
  }
  return s;
}

const series = [
  // panel a
  stepped(0, aSteps, aYellow, COL.yellow),
  stepped(0, aSteps, aBlue, COL.blue),
  stepped(0, aSteps, aGreen, COL.green),
  stepped(0, aSteps, aPurple, COL.purple),
  stepped(0, aSteps, aLightBlue, COL.lblue),
  stepped(0, aSteps, aDarkRed, COL.dred),
  stepped(0, aSteps, aBlueDash, COL.blue, DASH),
  stepped(0, aSteps, aDarkRedDash, COL.dred, DASH),
  stepped(0, aSteps, aPurpleDot, COL.purple, DOT),
  stepped(0, aSteps, aOrangeDash, COL.orange, DASH),
  stepped(0, aSteps, aPurpleDash, COL.purple, DASH),
  stepped(0, aSteps, aLightBlueDash, COL.lblue, DASH),
  stepped(0, aSteps, aGreenDash, COL.green, DASH),
  stepped(0, aSteps, aYellowDash, COL.yellow, DASH),
  stepped(0, aSteps, aDarkRedDot, COL.dred, DOT),
  line(0, aEnergy, COL.orange, 'solid', false, 3),
  // panel b
  stepped(1, steps6, bOrange, COL.orange),
  stepped(1, steps6, bPurple, COL.purple),
  stepped(1, steps6, bLightBlue, COL.lblue),
  stepped(1, steps6, bGreen, COL.green),
  stepped(1, steps6, bLightBlueDash, COL.lblue, DASH),
  stepped(1, steps6, bPurpleDash, COL.purple, DASH),
  stepped(1, steps6, bDarkRedDash, COL.dred, DASH),
  stepped(1, steps6, bYellowDot, COL.yellow, DOT),
  stepped(1, steps6, bBlueDot2, COL.blue, DOT),
  stepped(1, steps6, bYellowDash, COL.yellow, DASH),
  stepped(1, steps6, bDarkRedDot, COL.dred, DOT),
  line(1, bLightBlueDot, COL.lblue, DOT, 0.3),
  line(1, bPurpleDot, COL.purple, DOT, 0.3),
  line(1, bBlueDot, COL.blue, DOT, 0.3),
  line(1, bGreenDot, COL.green, DOT, 0.3),
  line(1, bOrangeDash, COL.orange, DASH, 0.3),
  line(1, bGreenDash, COL.green, DASH, 0.2),
  line(1, bDarkRed, COL.dred, 'solid', 0.3),
  line(1, bYellow, COL.yellow, 'solid', 0.3),
  line(1, bBlue, COL.blue, 'solid', 0.3),
  labels(1, bLabels, bLabelSteps, bLabelRows, false),
  // panel c
  stepped(2, steps6, cOrangeDash, COL.orange, DASH),
  stepped(2, steps6, cGreenDash, COL.green, DASH),
  stepped(2, steps6, cDarkRedDot2, COL.dred, DOT),
  stepped(2, steps6, cPurpleDot, COL.purple, DOT),
  stepped(2, steps6, cLightBlueDot, COL.lblue, DOT),
  line(2, cPurple, COL.purple, 'solid', 0.3),
  line(2, cLightBlue, COL.lblue, 'solid', 0.3),
  line(2, cLightBlueDash, COL.lblue, DASH, 0.3),
  line(2, cYellowDash, COL.yellow, DASH, 0.3),
  line(2, cBlueDash, COL.blue, DASH, 0.3),
  line(2, cBlueDot, COL.blue, DOT, 0.3),
  line(2, cDarkRedDot, COL.dred, DOT, 0.3),
  line(2, cOrangeDot, COL.orange, DOT, 0.3),
  line(2, cGreen, COL.green, 'solid', 0.3),
  line(2, cYellow, COL.yellow, 'solid', 0.3),
  line(2, cDarkRed, COL.dred, 'solid', 0.3),
  line(2, cOrange, COL.orange, 'solid', 0.2),
  stepped(2, steps6, cBlue, COL.blue),
  labels(2, cLabels, cLabelSteps, cLabelRows, true),
  // panel d
  stepped(3, steps6, dLightBlue, COL.lblue),
  stepped(3, steps6, dPurple, COL.purple),
  stepped(3, steps6, dYellow, COL.yellow),
  stepped(3, steps6, dBlue, COL.blue),
  stepped(3, steps6, dOrangeDot, COL.orange, DOT),
  stepped(3, steps6, dLightBlueDash, COL.lblue, DASH),
  stepped(3, steps6, dDarkRedDot, COL.dred, DOT),
  line(3, dPurpleDot, COL.purple, DOT, 0.3),
  line(3, dGreenDash, COL.green, DASH, 0.3),
  line(3, dPurpleDash, COL.purple, DASH, 0.3),
  line(3, dOrangeDash, COL.orange, DASH, 0.3),
  line(3, dGreen, COL.green, 'solid', 0.3),
  line(3, dOrange, COL.orange, 'solid', 0.3),
  line(3, dBlueDot, COL.blue, DOT, 0.3),
  line(3, dYellowDot, COL.yellow, DOT, 0.2),
  line(3, dDarkRed, COL.dred, 'solid', 0.3),
  labels(3, dLabels, dLabelSteps, dLabelRows, true)
];

const titleText = (text, y) => ({type:'text', x:366, y:y, silent:true,
  style:{text:text, font:'22px "DejaVu Sans"', fill:'#000', textAlign:'center', textVerticalAlign:'middle'}});

const chart = echarts.init(document.getElementById('c'), null, {renderer:'svg', width:699, height:770});
chart.setOption({
  animation:false,
  backgroundColor:'#fff',
  grid:grids.map(g => Object.assign({show:false, containLabel:false}, g)),
  xAxis:xAxis, yAxis:yAxis, series:series,
  graphic:[
    titleText('a) SP (MFCC)', 16),
    titleText('b) SP > PH', 198),
    titleText('c) SP > PH > WD', 408),
    titleText('d) SP > PH > WD > POS', 591),
    {type:'text', x:22, y:373, rotation:Math.PI/2, silent:true,
      style:{text:'Output Values', font:'23px "DejaVu Sans"', fill:'#000', textAlign:'center', textVerticalAlign:'middle'}},
    {type:'text', x:362, y:757, silent:true,
      style:{text:'Time steps', font:'21px "DejaVu Sans"', fill:'#000', textAlign:'center', textVerticalAlign:'middle'}}
  ]
});
</script></body></html>
